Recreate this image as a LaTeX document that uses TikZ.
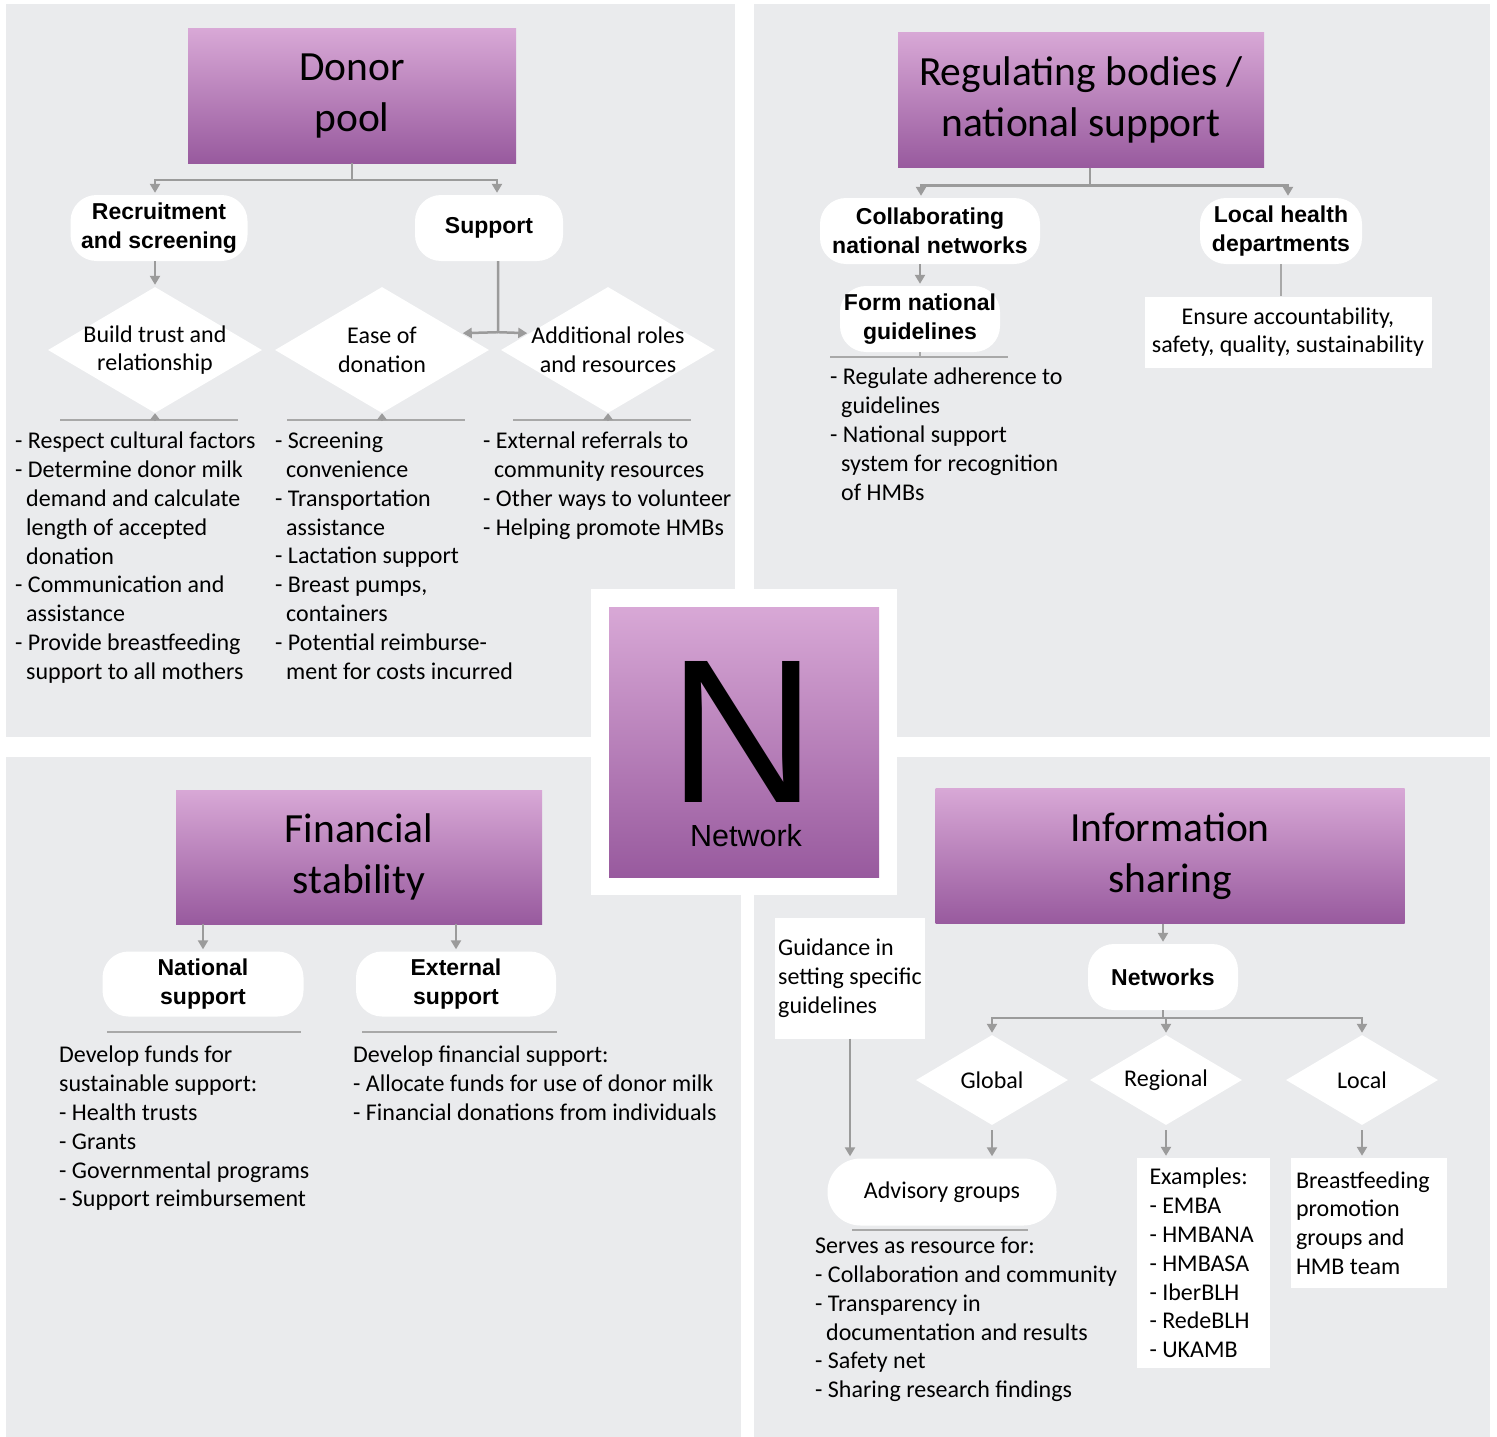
\documentclass[tikz,border=0pt]{standalone}
\usepackage{fontspec}
\setmainfont{Carlito}
\newfontfamily\arialfont{Liberation Sans}
\usetikzlibrary{shapes.geometric,arrows.meta}

\definecolor{panelgrau}{RGB}{234,235,237}
\definecolor{lilaoben}{RGB}{216,168,214}
\definecolor{lilaunten}{RGB}{152,90,158}
\definecolor{pfeilgrau}{RGB}{155,155,155}
\definecolor{strichgrau}{RGB}{168,168,168}

\tikzset{
  titel/.style={rectangle, top color=lilaoben, bottom color=lilaunten, inner sep=0pt, align=center, font=\fontsize{41.5}{51}\selectfont},
  knoten/.style={rectangle, fill=white, rounded corners=26pt, inner sep=0pt, align=center, minimum height=66pt, font=\arialfont\bfseries\fontsize{23}{29}\selectfont},
  raute/.style={diamond, fill=white, inner sep=0pt},
  rtext/.style={inner sep=0pt, align=center, font=\fontsize{24}{28.8}\selectfont},
  kasten/.style={rectangle, fill=white, inner sep=0pt, align=flush left, font=\fontsize{24}{28.8}\selectfont},
  liste/.style={anchor=north west, inner sep=0pt, align=left, font=\fontsize{24}{28.8}\selectfont},
  pfeil/.style={draw=pfeilgrau, line width=2.5pt, -{Triangle[length=9pt,width=10pt]}, shorten >=2pt},
  linie/.style={draw=strichgrau, line width=2.5pt},
}

\begin{document}
\begin{tikzpicture}[x=1pt, y=-1pt]
  % Einrückung für Folgezeilen
  \def\ein{\hspace*{11pt}}

  % Hintergrund und Felder
  \fill[white] (0,0) rectangle (1497,1437);
  \useasboundingbox (0,0) rectangle (1497,1437);
  \fill[panelgrau] (6,4) rectangle (735,737);
  \fill[panelgrau] (754,4) rectangle (1490,737);
  \fill[panelgrau] (6,757) rectangle (741,1437);
  \fill[panelgrau] (754,757) rectangle (1490,1437);

  % Mitte: Network
  \fill[white] (591,589) rectangle (897,895);
  \node[titel, minimum width=270pt, minimum height=270pt] (netz) at (744,742) {};
  \node[inner sep=0pt, anchor=base, font=\arialfont\fontsize{205}{205}\selectfont] (nbuch) at (743,802) {N};
  \node[inner sep=0pt, anchor=base, font=\arialfont\fontsize{30.5}{30.5}\selectfont] (netzwort) at (746,846) {Network};

  % Oben links: Donor pool
  \node[titel, minimum width=328pt, minimum height=134pt] (donor) at (352,96) {Donor\\pool};
  \node[knoten, minimum width=177pt] (rekrut) at (159,228) {Recruitment\\and screening};
  \node[knoten, minimum width=148pt] (support) at (489,228) {Support};
  \foreach \nm/\xx/\txt in {vertrauen/155/{Build trust and\\relationship},
                            leicht/382/{Ease of\\donation},
                            rollen/608/{Additional roles\\and resources}} {
    \node[raute, minimum width=214pt, minimum height=126pt] (\nm) at (\xx,350) {};
    \node[rtext] (\nm T) at (\nm) {\txt};
    \draw[linie] (\xx-95,420) -- (\xx+83,420);
    \draw[pfeil, -{Triangle[length=7pt,width=10pt]}, shorten >=0pt] (\xx,421) -- (\nm.south);
  }
  \draw[pfeil] (donor.south) -- ++(0,17) -| ([xshift=-4pt]rekrut.north);
  \draw[pfeil] (donor.south) -- ++(0,17) -| ([xshift=8pt]support.north);
  \draw[pfeil] ([xshift=-4pt]rekrut.south) -- (vertrauen.north);
  \draw[pfeil] ([xshift=9pt]support.south) -- ++(0,71) coordinate (gabel) -- (rollen.168);
  \draw[pfeil] (gabel) -- (leicht.12);

  \node[liste] (liste1) at (15,432) {- Respect cultural factors\\- Determine donor milk\\\ein demand and calculate\\\ein length of accepted\\\ein donation\\- Communication and\\\ein assistance\\- Provide breastfeeding\\\ein support to all mothers};
  \node[liste] (liste2) at (275,432) {- Screening\\\ein convenience\\- Transportation\\\ein assistance\\- Lactation support\\- Breast pumps,\\\ein containers\\- Potential reimburse-\\\ein ment for costs incurred};
  \node[liste] (liste3) at (483,432) {- External referrals to\\\ein community resources\\- Other ways to volunteer\\- Helping promote HMBs};

  % Oben rechts: Regulating bodies
  \node[titel, minimum width=366pt, minimum height=135pt] (regul) at (1081,100) {Regulating bodies /\\national support};
  \node[knoten, minimum width=220pt] (kollab) at (930,231) {Collaborating\\national networks};
  \node[knoten, minimum width=162pt] (lokal) at (1281,231) {Local health\\departments};
  \node[knoten, minimum width=160pt] (form) at (920,319) {Form national\\guidelines};
  \node[kasten, align=center, minimum width=287pt, minimum height=71pt] (sicher) at (1288,332) {Ensure accountability,\\safety, quality, sustainability};
  \draw[pfeil] ([xshift=9pt]regul.south) -- ++(0,18) -| ([xshift=-9pt]kollab.north);
  \draw[pfeil] ([xshift=9pt]regul.south) -- ++(0,18) -| ([xshift=7pt]lokal.north);
  \draw[pfeil] (kollab.south -| form.north) -- (form.north);
  \draw[linie] (form.south) -- ++(0,5);
  \draw[linie] (830,357) -- (1008,357);
  \draw[linie] (lokal.south) -- (lokal.south |- sicher.north);
  \node[liste] (liste4) at (830,368) {- Regulate adherence to\\\ein guidelines\\- National support\\\ein system for recognition\\\ein of HMBs};

  % Unten links: Financial stability
  \node[titel, minimum width=366pt, minimum height=134pt] (finanz) at (359,857) {Financial\\stability};
  \node[knoten, minimum width=201pt, minimum height=65pt] (national) at (203,984) {National\\support};
  \node[knoten, minimum width=200pt, minimum height=65pt] (extern) at (456,984) {External\\support};
  \draw[pfeil] (national.north |- finanz.south) -- (national.north);
  \draw[pfeil] (extern.north |- finanz.south) -- (extern.north);
  \draw[linie] (107,1032) -- (301,1032);
  \draw[linie] (362,1032) -- (557,1032);
  \node[liste] (liste5) at (59,1046) {Develop funds for\\sustainable support:\\- Health trusts\\- Grants\\- Governmental programs\\- Support reimbursement};
  \node[liste] (liste6) at (353,1046) {Develop financial support:\\- Allocate funds for use of donor milk\\- Financial donations from individuals};

  % Unten rechts: Information sharing
  \node[titel, minimum width=469pt, minimum height=135pt] (info) at (1170,856) {Information\\sharing};
  \node[knoten, minimum width=150pt] (netze) at (1163,977) {Networks};
  \draw[pfeil] (info.south -| netze.north) -- (netze.north);
  \foreach \nm/\xx/\txt in {global/992/Global, regional/1166/Regional, lokalR/1362/Local} {
    \node[raute, minimum width=152pt, minimum height=90pt] (\nm) at (\xx,1080) {};
    \node[rtext] (\nm T) at (\nm) {\txt};
    \draw[pfeil] (netze.south) -- ++(0,8) -| (\nm.north);
  }
  \node[kasten, minimum width=150pt, minimum height=121pt] (leit) at (850,978) {Guidance in\\setting specific\\guidelines};
  \node[knoten, rounded corners=33pt, minimum width=229pt, minimum height=67pt, font=\fontsize{24}{28.8}\selectfont] (berat) at (942,1192) {Advisory groups};
  \node[kasten, text width=107pt, minimum width=133pt, minimum height=210pt] (beisp) at (1203,1263) {Examples:\\- EMBA\\- HMBANA\\- HMBASA\\- IberBLH\\- RedeBLH\\- UKAMB};
  \node[kasten, text width=146pt, minimum width=156pt, minimum height=130pt] (stillen) at (1369,1223) {Breastfeeding\\promotion\\groups and\\HMB team};
  \draw[pfeil] (leit.south) -- (leit.south |- berat.north);
  \draw[pfeil, shorten <=5pt] (global.south) -- (global.south |- berat.north);
  \draw[pfeil, shorten <=5pt] (regional.south) -- (regional.south |- beisp.north);
  \draw[pfeil, shorten <=5pt] (lokalR.south) -- (lokalR.south |- stillen.north);
  \draw[linie] (852,1230) -- (1028,1230);
  \node[liste] (liste7) at (815,1237) {Serves as resource for:\\- Collaboration and community\\- Transparency in\\\ein documentation and results\\- Safety net\\- Sharing research findings};
\end{tikzpicture}
\end{document}
